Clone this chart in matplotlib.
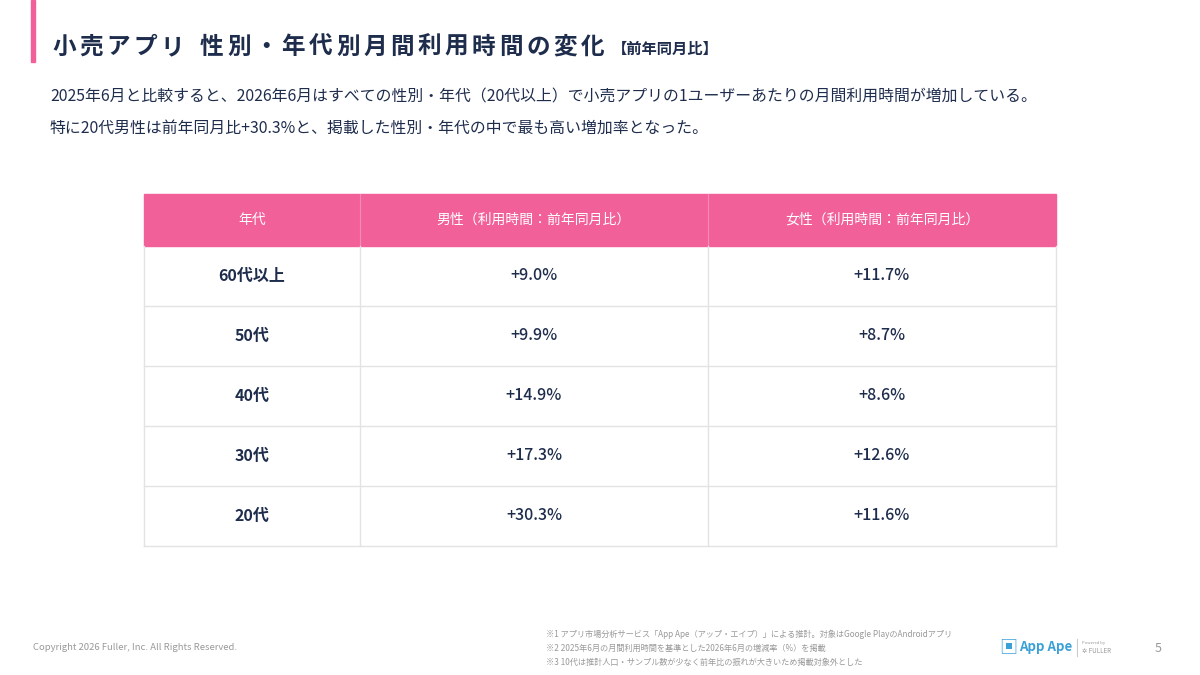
import matplotlib
matplotlib.use('Agg')
import matplotlib.pyplot as plt
from matplotlib.patches import Rectangle

plt.rcParams['font.family'] = ['Noto Sans CJK JP', 'DejaVu Sans']

# data
ages = ['60代以上', '50代', '40代', '30代', '20代']
male = [9.0, 9.9, 14.9, 17.3, 30.3]
female = [11.7, 8.7, 8.6, 12.6, 11.6]
headers = ['年代', '男性（利用時間：前年同月比）', '女性（利用時間：前年同月比）']
title = '小売アプリ 性別・年代別月間利用時間の変化'

pink = '#f2609a'
navy = '#1f2d4d'
grey = '#999999'
line = '#e3e3e3'

fig = plt.figure(figsize=(12, 6.75), dpi=100)
ax = fig.add_axes([0, 0, 1, 1])
ax.set_xlim(0, 1200)
ax.set_ylim(675, 0)
ax.axis('off')

# left accent bar
ax.add_patch(Rectangle((31, 0), 4, 62, color=pink))
# title with letter spacing
x = 52
for ch in title:
    if ch == ' ':
        x += 12
        continue
    ax.text(x, 47, ch, fontsize=17, color=navy, fontweight='bold', va='center')
    x += 27.2
ax.text(612, 49, '【前年同月比】', fontsize=11, color=navy, fontweight='bold', va='center')
ax.text(50, 97, '2025年6月と比較すると、2026年6月はすべての性別・年代（20代以上）で小売アプリの1ユーザーあたりの月間利用時間が増加している。',
        fontsize=11.4, color=navy, va='center')
ax.text(50, 128, '特に20代男性は前年同月比+30.3%と、掲載した性別・年代の中で最も高い増加率となった。',
        fontsize=11.4, color=navy, va='center')

# table
xs = [144, 360, 708, 1056]
top, hh, rh = 194, 52, 60
ax.add_patch(Rectangle((xs[0], top), xs[-1] - xs[0], hh, color=pink))
for i, h in enumerate(headers):
    ax.text((xs[i] + xs[i + 1]) / 2, top + hh / 2, h, fontsize=10, color='white',
            ha='center', va='center')
for x in xs[1:-1]:
    ax.plot([x, x], [top, top + hh], color='#f58ab5', lw=0.8)

y0 = top + hh
bottom = y0 + rh * len(ages)
for r, (a, m, f) in enumerate(zip(ages, male, female)):
    yc = y0 + rh * r + rh / 2
    for i, t in enumerate([a, f'+{m:.1f}%', f'+{f:.1f}%']):
        ax.text((xs[i] + xs[i + 1]) / 2, yc, t, fontsize=11.5, color=navy,
                ha='center', va='center', fontweight='bold' if i == 0 else 'medium')
    ax.plot([xs[0], xs[-1]], [y0 + rh * (r + 1)] * 2, color=line, lw=1)
for x in xs:
    ax.plot([x, x], [y0, bottom], color=line, lw=1)

# footer
ax.text(33, 648, 'Copyright 2026 Fuller, Inc. All Rights Reserved.', fontsize=6.8, color=grey, va='center')
notes = ['※1 アプリ市場分析サービス「App Ape（アップ・エイプ）」による推計。対象はGoogle PlayのAndroidアプリ',
         '※2 2025年6月の月間利用時間を基準とした2026年6月の増減率（%）を掲載',
         '※3 10代は推計人口・サンプル数が少なく前年比の振れが大きいため掲載対象外とした']
for i, n in enumerate(notes):
    ax.text(546, 634 + 14 * i, n, fontsize=5.9, color=grey, va='center')
ax.text(999, 647, '▣', fontsize=13, color='#3aa0d8', va='center')
ax.text(1019, 647, 'App Ape', fontsize=9.5, color='#3aa0d8', fontweight='bold', va='center')
ax.plot([1077, 1077], [639, 656], color='#cccccc', lw=0.8)
ax.text(1082, 643, 'Powered by', fontsize=3, color=grey, va='center')
ax.text(1082, 651, '✲ FULLER', fontsize=4.5, color=grey, va='center')
ax.text(1155, 648, '5', fontsize=9, color=grey, va='center')

fig.savefig('out.png', dpi=100, facecolor='white')
